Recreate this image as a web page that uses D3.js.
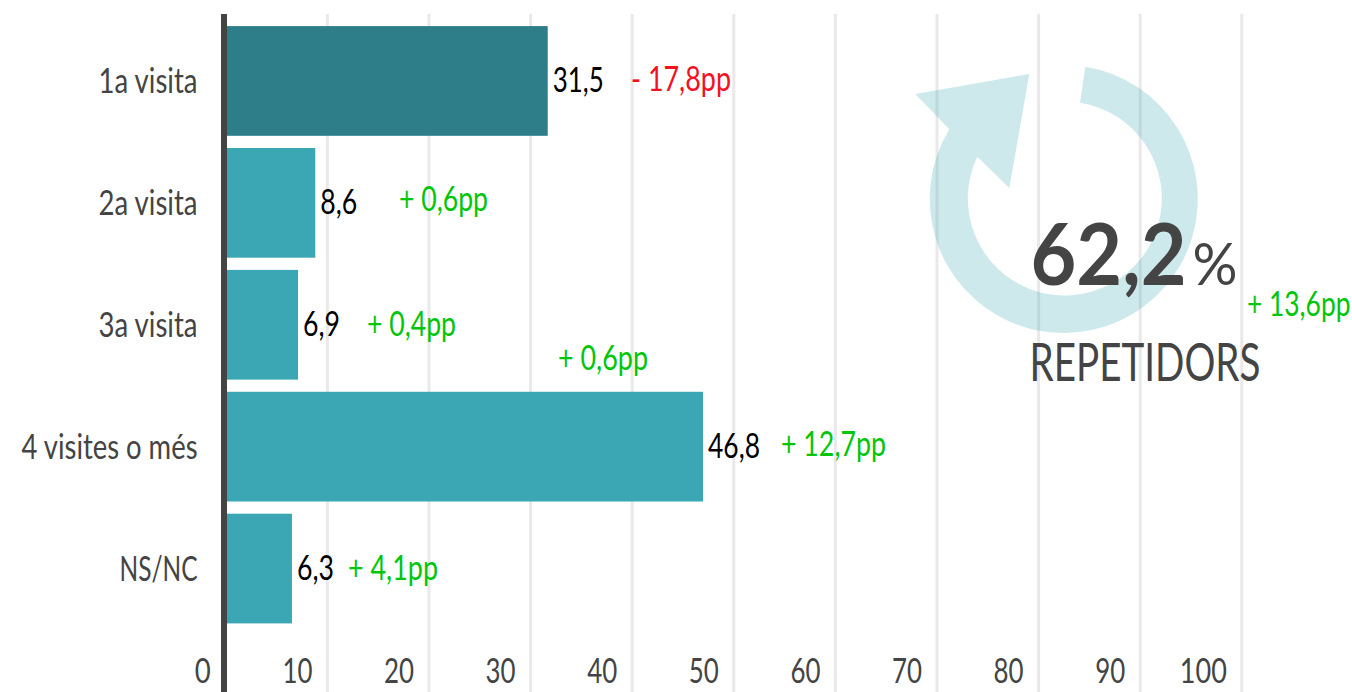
<!DOCTYPE html>
<html><head><meta charset="utf-8">
<script src="https://cdn.jsdelivr.net/npm/d3@7/dist/d3.min.js"></script>
<style>html,body{margin:0;padding:0;background:#fff;overflow:hidden}svg{display:block}text{font-family:"Lato","Noto Sans",sans-serif}</style>
</head><body><svg id="c" width="1352" height="692"></svg>
<script>
const categories = ["1a visita","2a visita","3a visita","4 visites o més","NS/NC"];
const values = [31.5,8.6,6.9,46.8,6.3];
const valueLabels = ["31,5","8,6","6,9","46,8","6,3"];
const changeLabels = ["- 17,8pp","+ 0,6pp","+ 0,4pp","+ 12,7pp","+ 4,1pp"];
const extraChangeLabel = "+ 0,6pp";
const tickValues = [0,10,20,30,40,50,60,70,80,90,100];
const headline = "62,2";
const headlineUnit = "%";
const headlineChange = "+ 13,6pp";
const headlineLabel = "REPETIDORS";

const GREY="#444444", GREEN="#00c60a", RED="#f5101f", FS=34;
const svg=d3.select("#c");
const xAxis=d3.scaleLinear().domain([0,100]).range([225.8,1241.8]);
const xBar=d3.scaleLinear().domain([0,100]).range([228,1243]);
const y=d3.scaleBand().domain(categories).range([20,629.5]).paddingInner(0.1).paddingOuter(0.05);

// Draws a text squeezed horizontally to width w (the original face is a narrow one).
function label(sel,o){
  const t=sel.append("text").attr("fill",o.fill||GREY)
    .attr("font-size",o.fs||FS).attr("font-weight",o.weight||400)
    .attr("text-anchor",o.anchor||"start").text(o.text);
  const sx=o.w?o.w/t.node().getComputedTextLength():1;
  t.attr("transform",`translate(${o.x},${o.y}) scale(${sx},1)`);
  return t;
}

svg.append("g").selectAll("line").data(tickValues.slice(1)).join("line")
  .attr("x1",d=>xAxis(d)).attr("x2",d=>xAxis(d)).attr("y1",14).attr("y2",692)
  .attr("stroke","#e9e9e9").attr("stroke-width",3);

svg.append("g").selectAll("rect").data(values).join("rect")
  .attr("x",xBar(0)-2).attr("y",(d,i)=>y(categories[i]))
  .attr("width",d=>xBar(d)-xBar(0)+2).attr("height",y.bandwidth())
  .attr("fill",(d,i)=>i===0?"#2e7e8a":"#3ba7b4");

svg.append("line").attr("x1",224).attr("x2",224).attr("y1",14).attr("y2",692)
  .attr("stroke",GREY).attr("stroke-width",6);

const catW=[99,99,99,176,78];
categories.forEach((c,i)=>label(svg,{x:197.5,y:y(c)+y.bandwidth()/2+12,anchor:"end",text:c,w:catW[i]}));

tickValues.forEach(t=>label(svg,{x:xAxis(t)-15,y:683,anchor:"end",text:String(t),w:t===0?16:t===100?47:30}));

const valW=[51,37,37,52,37];
valueLabels.forEach((v,i)=>label(svg,{x:xBar(values[i])+5,y:y(categories[i])+y.bandwidth()/2+11.5,fill:"#000",text:v,w:valW[i]}));

const chg=[{x:631,y:91,w:100},{x:399,y:211,w:89},{x:367,y:336,w:89},{x:781,y:456,w:105},{x:348,y:580,w:90}];
changeLabels.forEach((c,i)=>label(svg,{...chg[i],text:c,fill:i===0?RED:GREEN}));
label(svg,{x:558,y:370,w:90,text:extraChangeLabel,fill:GREEN});

svg.append("path")
  .attr("d","M1085.3,66.7A134,134 0 1 1 949.3,129.3L915.3,94L1029.3,74L1009.3,188L977.3,156.7A97,97 0 1 0 1080,102.7Z")
  .attr("fill","#3ba7b4").attr("fill-opacity",0.25);

label(svg,{x:1030.5,y:285,fs:86,weight:700,text:headline,w:156});
label(svg,{x:1192.5,y:285,fs:58,text:headlineUnit,w:45});
label(svg,{x:1247,y:316,text:headlineChange,fill:GREEN,w:103.5});
label(svg,{x:1029.5,y:380.5,fs:52,text:headlineLabel,w:231});
</script></body></html>
